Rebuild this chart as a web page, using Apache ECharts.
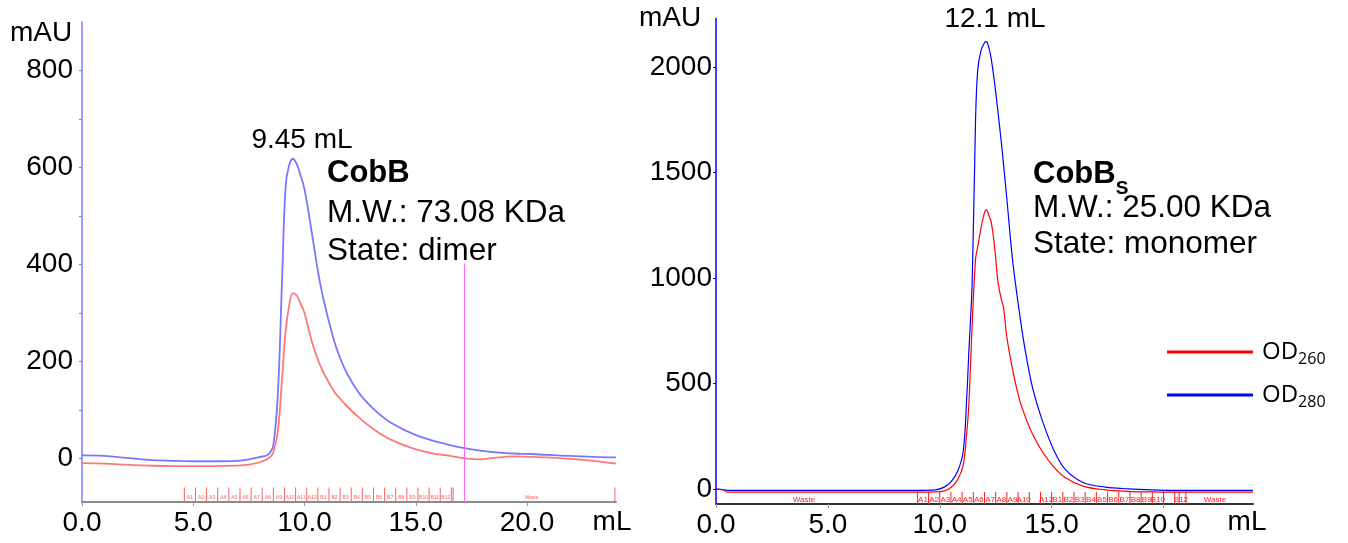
<!DOCTYPE html>
<html>
<head>
<meta charset="utf-8">
<script src="https://cdn.jsdelivr.net/npm/echarts@6/dist/echarts.min.js"></script>
<style>
  html, body { margin: 0; padding: 0; background: #ffffff; }
  #chart { width: 1348px; height: 543px; }
</style>
</head>
<body>
<div id="chart"></div>
<script>
// ---------------- DATA ----------------
// Left panel: CobB (elution volume in mL, absorbance in mAU)
const leftVol   = [0, 1, 2, 3, 4, 5, 6, 7, 7.5, 8, 8.3, 8.45, 8.6, 8.8, 9.0, 9.15, 9.3, 9.48, 9.65, 9.8, 10.0, 10.35, 10.75, 11.3, 11.6, 11.9, 12.4, 12.9, 13.4, 13.9, 14.9, 15.8, 16.4, 17.2, 17.9, 18.5, 19.4, 20.2, 20.9, 22, 23, 24];
const leftOD280 = [6, 5, 1, -3, -5, -6, -6, -5, -2, 3, 6, 12, 27, 130, 380, 560, 603, 618, 607, 587, 555, 459, 350, 247, 207, 176, 138, 111, 90, 73, 50, 36, 29, 21, 16, 13, 10, 9, 7, 5, 3, 2];
const leftOD260 = [-10, -11, -13, -15, -16, -16, -16, -15, -13, -8, -2, 3, 12, 55, 170, 262, 312, 341, 336, 321, 300, 238, 187, 140, 123, 108, 86, 67, 51, 38, 20, 10, 6, 0, -2, 1, 4, 3, 2, -1, -5, -11];
const leftMarkerVol = 17.2;

// Right panel: CobB_S
const rightVol   = [0, 0.3, 0.5, 3, 6, 9, 9.8, 10.2, 10.5, 10.8, 11.05, 11.2, 11.3, 11.45, 11.6, 11.7, 11.85, 12.0, 12.08, 12.2, 12.3, 12.45, 12.6, 12.75, 12.85, 13.0, 13.25, 13.55, 13.8, 14.15, 14.6, 15.1, 15.6, 16.4, 17.4, 18.4, 19.5, 20.5, 21, 22, 24];
const rightOD280 = [0, -2, -5, -5, -5, -5, -3, 10, 35, 85, 180, 420, 650, 980, 1750, 1990, 2080, 2115, 2120, 2090, 2040, 1925, 1790, 1645, 1540, 1375, 1090, 845, 670, 480, 320, 185, 95, 32, 10, 2, -3, -5, -5, -5, -5];
const rightOD260 = [0, -2, -14, -14, -14, -14, -13, -8, 8, 45, 115, 260, 400, 780, 1090, 1150, 1240, 1310, 1325, 1295, 1265, 1150, 985, 900, 860, 720, 570, 430, 350, 260, 175, 105, 55, 15, -3, -10, -13, -14, -14, -14, -14];

// Axis ticks
const xTickVals      = [0, 5, 10, 15, 20];
const leftYLabels    = [0, 200, 400, 600, 800];
const leftYTicks     = [0, 100, 200, 300, 400, 500, 600, 700, 800];
const rightYLabels   = [0, 500, 1000, 1500, 2000];

// Fraction collector marks
const leftFracEdges  = [4.6, 5.1, 5.6, 6.1, 6.6, 7.1, 7.6, 8.1, 8.6, 9.1, 9.6, 10.1, 10.6, 11.1, 11.6, 12.1, 12.6, 13.1, 13.6, 14.1, 14.6, 15.1, 15.6, 16.1, 16.6, 16.68, 23.95];
const leftFracLabels = ['A1','A2','A3','A4','A5','A6','A7','A8','A9','A10','A11','A12','B1','B2','B3','B4','B5','B6','B7','B8','B9','B10','B11','B12','Waste'];
const leftFracPos    = [4.85, 5.35, 5.85, 6.35, 6.85, 7.35, 7.85, 8.35, 8.85, 9.35, 9.85, 10.35, 10.85, 11.35, 11.85, 12.35, 12.85, 13.35, 13.85, 14.35, 14.85, 15.35, 15.85, 16.35, 20.2];

const rightFracEdges  = [9.0, 9.5, 10.0, 10.5, 11.0, 11.5, 12.0, 12.5, 13.0, 13.5, 14.0, 14.5, 15.0, 15.5, 16.0, 16.5, 17.0, 17.5, 18.0, 18.5, 19.0, 19.5, 20.0, 20.5, 20.7, 21.0];
const rightFracLabels = ['Waste','A1','A2','A3','A4','A5','A6','A7','A8','A9','A10','A12','B1','B2','B3','B4','B5','B6','B7','B8','B9','B10','B12','Waste'];
const rightFracPos    = [3.93, 9.25, 9.75, 10.25, 10.75, 11.25, 11.75, 12.25, 12.75, 13.25, 13.75, 14.75, 15.25, 15.75, 16.25, 16.75, 17.25, 17.75, 18.25, 18.75, 19.25, 19.75, 20.78, 22.3];

// ---------------- HELPERS ----------------
const zip = (xs, ys) => xs.map((x, i) => [x, ys[i]]);
const FONT = '"Liberation Sans", Arial, sans-serif';
const LFONT = '"Open Sans", "Noto Sans", sans-serif';

function edgeSeries(gi, edges, y0, y1, color) {
  return {
    type: 'custom', xAxisIndex: gi, yAxisIndex: gi, silent: true, z: 1,
    data: edges.map(e => [e]),
    renderItem: function (params, api) {
      const x = api.value(0);
      const p0 = api.coord([x, y0]);
      const p1 = api.coord([x, y1]);
      return { type: 'line', shape: { x1: p0[0], y1: p0[1], x2: p1[0], y2: p1[1] },
               style: { stroke: color, lineWidth: 1 } };
    }
  };
}
function labelSeries(gi, pos, labels, yText, color, size) {
  return {
    type: 'custom', xAxisIndex: gi, yAxisIndex: gi, silent: true, z: 1,
    data: pos.map(p => [p]),
    renderItem: function (params, api) {
      const c = api.coord([api.value(0), yText]);
      return { type: 'text', x: c[0], y: c[1],
               style: { text: labels[params.dataIndex], fill: color,
                        font: size + 'px ' + FONT, align: 'center', verticalAlign: 'middle' } };
    }
  };
}

function xAxisCfg(gi, lineColor) {
  return {
    type: 'value', gridIndex: gi, min: 0, max: 24,
    splitLine: { show: false },
    axisLine: { onZero: false, lineStyle: { color: lineColor, width: 2 } },
    axisTick: { customValues: xTickVals, length: 4, lineStyle: { color: '#999' } },
    axisLabel: { customValues: xTickVals, formatter: v => Number(v).toFixed(1),
                 fontSize: 28, fontFamily: FONT, color: '#000', margin: 7 }
  };
}

const chart = echarts.init(document.getElementById('chart'), null, { renderer: 'canvas' });

const option = {
  animation: false,
  backgroundColor: '#ffffff',
  grid: [
    { left: 82, top: 22, width: 534, height: 480 },
    { left: 716, top: 18.5, width: 537, height: 485.5 }
  ],
  xAxis: [ xAxisCfg(0, '#8c8c8c'), xAxisCfg(1, '#333333') ],
  yAxis: [
    { type: 'value', gridIndex: 0, min: -90, max: 900,
      splitLine: { show: false },
      axisLine: { show: true, onZero: false, lineStyle: { color: '#7d7dff', width: 1.5 } },
      axisTick: { show: true, customValues: leftYTicks, length: 3, lineStyle: { color: '#7d7dff' } },
      axisLabel: { customValues: leftYLabels, formatter: v => String(v), fontSize: 28, fontFamily: FONT, color: '#000', margin: 9 } },
    { type: 'value', gridIndex: 1, min: -70, max: 2230,
      splitLine: { show: false },
      axisLine: { show: true, onZero: false, lineStyle: { color: '#0000ff', width: 1.5 } },
      axisTick: { show: true, customValues: rightYLabels, length: 3, lineStyle: { color: '#0000ff' } },
      axisLabel: { customValues: rightYLabels, formatter: v => String(v), fontSize: 28, fontFamily: FONT, color: '#000', margin: 4 } }
  ],
  legend: {
    orient: 'vertical', left: 1167, top: 337, padding: 0, itemWidth: 86, itemHeight: 3, itemGap: 13,
    icon: 'rect', selectedMode: false,
    data: [ { name: 'OD260', itemStyle: { color: '#ff0000' } },
            { name: 'OD280', itemStyle: { color: '#0000ff' } } ],
    formatter: n => '{a|OD}{b|' + n.slice(2) + '}',
    textStyle: { rich: {
      a: { fontSize: 24, fontFamily: LFONT, color: '#000', padding: [0, 0, 0, 4], lineHeight: 34 },
      b: { fontSize: 16, fontFamily: LFONT, color: '#000', padding: [14, 0, 0, 0], lineHeight: 34 }
    } }
  },
  series: [
    { name: 'OD280 (CobB)', type: 'line', xAxisIndex: 0, yAxisIndex: 0, data: zip(leftVol, leftOD280),
      showSymbol: false, smooth: 0.4, z: 3,
      lineStyle: { color: '#7878ff', width: 1.8 }, itemStyle: { color: '#7878ff' },
      markLine: { silent: true, symbol: 'none', label: { show: false },
        lineStyle: { color: '#ff66ff', type: 'solid', width: 1.2 },
        data: [[ { coord: [leftMarkerVol, -90] }, { coord: [leftMarkerVol, 402] } ]] } },
    { name: 'OD260 (CobB)', type: 'line', xAxisIndex: 0, yAxisIndex: 0, data: zip(leftVol, leftOD260),
      showSymbol: false, smooth: 0.4, z: 3,
      lineStyle: { color: '#ff7878', width: 1.8 }, itemStyle: { color: '#ff7878' } },
    { name: 'OD280', type: 'line', xAxisIndex: 1, yAxisIndex: 1, data: zip(rightVol, rightOD280),
      showSymbol: false, smooth: 0.35, z: 3,
      lineStyle: { color: '#0000ff', width: 1.2 }, itemStyle: { color: '#0000ff' } },
    { name: 'OD260', type: 'line', xAxisIndex: 1, yAxisIndex: 1, data: zip(rightVol, rightOD260),
      showSymbol: false, smooth: 0.35, z: 3,
      lineStyle: { color: '#ff0000', width: 1.2 }, itemStyle: { color: '#ff0000' } },
    edgeSeries(0, leftFracEdges, -90, -60, '#ff6060'),
    labelSeries(0, leftFracPos, leftFracLabels, -82, '#ff6060', 5),
    edgeSeries(1, rightFracEdges, -70, -13, '#ff2020'),
    labelSeries(1, rightFracPos, rightFracLabels, -52, '#ff2020', 8)
  ],
  graphic: [
    { type: 'text', x: 41, y: 33, style: { text: 'mAU', font: '28px ' + FONT, fill: '#000', align: 'center', verticalAlign: 'middle' } },
    { type: 'text', x: 670, y: 18, style: { text: 'mAU', font: '28px ' + FONT, fill: '#000', align: 'center', verticalAlign: 'middle' } },
    { type: 'text', x: 612, y: 522, style: { text: 'mL', font: '28px ' + FONT, fill: '#000', align: 'center', verticalAlign: 'middle' } },
    { type: 'text', x: 1247, y: 522, style: { text: 'mL', font: '28px ' + FONT, fill: '#000', align: 'center', verticalAlign: 'middle' } },
    { type: 'text', x: 302, y: 140, style: { text: '9.45 mL', font: '28px ' + FONT, fill: '#000', align: 'center', verticalAlign: 'middle' } },
    { type: 'text', x: 995, y: 19, style: { text: '12.1 mL', font: '28px ' + FONT, fill: '#000', align: 'center', verticalAlign: 'middle' } },
    { type: 'text', x: 327, y: 173, style: { text: 'CobB', font: 'bold 31px ' + FONT, fill: '#000', align: 'left', verticalAlign: 'middle' } },
    { type: 'text', x: 327, y: 213, style: { text: 'M.W.: 73.08 KDa', font: '31.5px ' + FONT, fill: '#000', align: 'left', verticalAlign: 'middle' } },
    { type: 'text', x: 327, y: 251, style: { text: 'State: dimer', font: '31.5px ' + FONT, fill: '#000', align: 'left', verticalAlign: 'middle' } },
    { type: 'text', x: 1033, y: 172, style: { text: '{b|CobB}{s|S}', align: 'left', verticalAlign: 'middle',
        rich: { b: { font: 'bold 31px ' + FONT, fill: '#000', lineHeight: 36, verticalAlign: 'bottom' },
                s: { font: 'bold 19px ' + FONT, fill: '#000', lineHeight: 36, verticalAlign: 'bottom', padding: [0, 0, -8, 0] } } } },
    { type: 'text', x: 1033, y: 208, style: { text: 'M.W.: 25.00 KDa', font: '31.5px ' + FONT, fill: '#000', align: 'left', verticalAlign: 'middle' } },
    { type: 'text', x: 1033, y: 244, style: { text: 'State: monomer', font: '31.5px ' + FONT, fill: '#000', align: 'left', verticalAlign: 'middle' } }
  ]
};
chart.setOption(option);
</script>
</body>
</html>
